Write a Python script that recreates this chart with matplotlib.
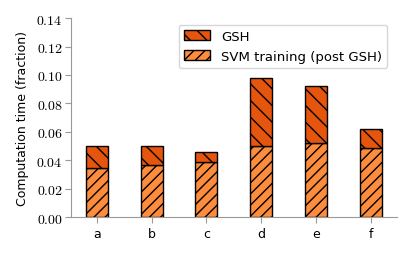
import matplotlib
matplotlib.use("Agg")
import matplotlib.pyplot as plt
from matplotlib.ticker import FuncFormatter

categories = ["a", "b", "c", "d", "e", "f"]
svm_training = [0.0343, 0.0366, 0.0389, 0.0497, 0.0519, 0.0483]
gsh = [0.0159, 0.0136, 0.0071, 0.0483, 0.0405, 0.0136]

plt.rcParams['mathtext.fontset'] = 'cm'
plt.rcParams['hatch.linewidth'] = 1.0
plt.rcParams['font.family'] = ['DejaVu Sans']

fig = plt.figure(figsize=(4.15, 2.55), dpi=100)
ax = fig.add_axes([0.171, 0.145, 0.786, 0.78])

x = list(range(len(categories)))
b1 = ax.bar(x, svm_training, width=0.4, color="#fd8d3c", edgecolor="black",
            linewidth=1.0, hatch="///", label="SVM training (post GSH)")
b2 = ax.bar(x, gsh, width=0.4, bottom=svm_training, color="#e6550d",
            edgecolor="black", linewidth=1.0, hatch="\\\\", label="GSH")

ax.set_ylim(0, 0.14)
ax.set_xlim(-0.47, 5.48)
ax.set_yticks([0, 0.02, 0.04, 0.06, 0.08, 0.10, 0.12, 0.14])
ax.yaxis.set_major_formatter(FuncFormatter(lambda v, p: r"$%.2f$" % v))
ax.set_xticks(x)
ax.set_xticklabels(categories, fontsize=9)
ax.tick_params(axis='y', labelsize=10, color='#999999', length=4, pad=2)
ax.tick_params(axis='x', color='#999999', length=4)
ax.set_ylabel("Computation time (fraction)", fontsize=9, labelpad=5)
for s in ["top", "right"]:
    ax.spines[s].set_visible(False)
for s in ["left", "bottom"]:
    ax.spines[s].set_color('#999999')

ax.legend(handles=[b2, b1], loc="upper right", fontsize=9.5, frameon=True,
          bbox_to_anchor=(0.99, 1.0), edgecolor='#cccccc', fancybox=True,
          handlelength=2.0, handleheight=0.8, handletextpad=0.8)

fig.savefig("out.png", dpi=100)
